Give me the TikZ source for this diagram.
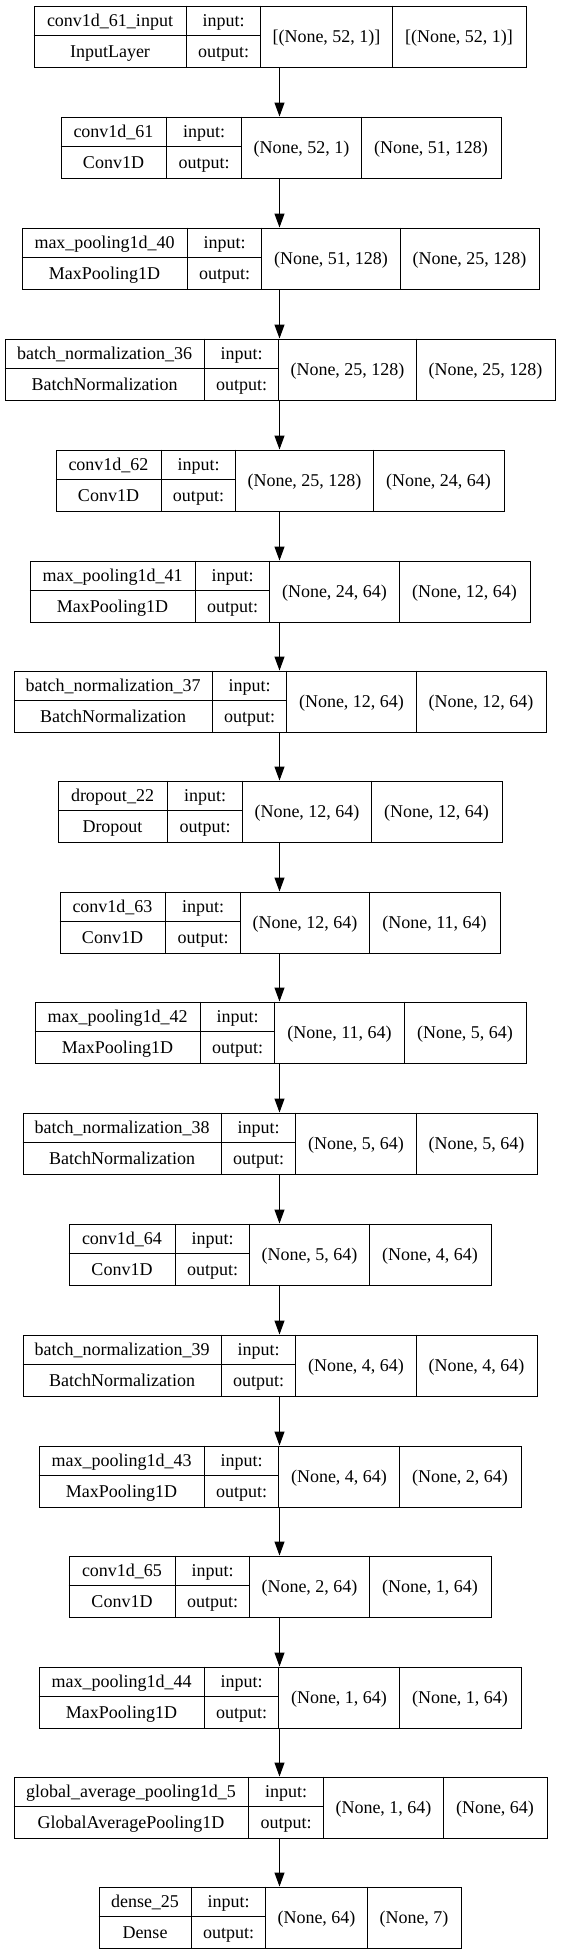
\documentclass[tikz,border=0pt]{standalone}
\usepackage{fontspec}
\setmainfont{Liberation Serif}
\usetikzlibrary{arrows.meta}
\begin{document}
\begin{tikzpicture}[x=1pt,y=-1pt,
  layerbox/.style={draw=black, line width=1.1pt, inner sep=0pt, anchor=north west},
  cell/.style={line width=1.1pt},
  txt/.style={font=\fontsize{18}{20}\selectfont, inner sep=0pt, anchor=base},
  arr/.style={line width=1.1pt, -{Triangle[length=14pt,width=10pt]}}]
\useasboundingbox (0,0) rectangle (563,1955);
\def\HH{61}
\coordinate (ax) at (279.5,0);
\foreach \nn/\ty/\xl/\xa/\xb/\xc/\xr/\lab/\cls/\shi/\sho in {
 b1/5.5/33.5/186.5/260.5/392.5/525.5/{conv1d\_61\_input}/{InputLayer}/{[(None, 52, 1)]}/{[(None, 52, 1)]},
 b2/116.5/60.5/166.5/241.5/361.5/500.5/{conv1d\_61}/{Conv1D}/{(None, 52, 1)}/{(None, 51, 128)},
 b3/227.5/21.5/187.5/261.5/400.5/538.5/{max\_pooling1d\_40}/{MaxPooling1D}/{(None, 51, 128)}/{(None, 25, 128)},
 b4/338.5/4.5/204.5/278.5/416.5/554.5/{batch\_normalization\_36}/{BatchNormalization}/{(None, 25, 128)}/{(None, 25, 128)},
 b5/449.5/55.5/161.5/235.5/373.5/503.5/{conv1d\_62}/{Conv1D}/{(None, 25, 128)}/{(None, 24, 64)},
 b6/560.5/29.5/195.5/269.5/399.5/529.5/{max\_pooling1d\_41}/{MaxPooling1D}/{(None, 24, 64)}/{(None, 12, 64)},
 b7/670.5/13.5/212.5/286.5/416.5/545.5/{batch\_normalization\_37}/{BatchNormalization}/{(None, 12, 64)}/{(None, 12, 64)},
 b8/780.5/57.5/167.5/242.5/371.5/501.5/{dropout\_22}/{Dropout}/{(None, 12, 64)}/{(None, 12, 64)},
 b9/891.5/59.5/165.5/240.5/369.5/499.5/{conv1d\_63}/{Conv1D}/{(None, 12, 64)}/{(None, 11, 64)},
 b10/1001.5/34.5/200.5/274.5/404.5/525.5/{max\_pooling1d\_42}/{MaxPooling1D}/{(None, 11, 64)}/{(None, 5, 64)},
 b11/1112.5/22.5/221.5/295.5/416.5/536.5/{batch\_normalization\_38}/{BatchNormalization}/{(None, 5, 64)}/{(None, 5, 64)},
 b12/1223.5/68.5/175.5/249.5/369.5/490.5/{conv1d\_64}/{Conv1D}/{(None, 5, 64)}/{(None, 4, 64)},
 b13/1334.5/22.5/221.5/295.5/416.5/536.5/{batch\_normalization\_39}/{BatchNormalization}/{(None, 4, 64)}/{(None, 4, 64)},
 b14/1445.5/38.5/204.5/278.5/399.5/520.5/{max\_pooling1d\_43}/{MaxPooling1D}/{(None, 4, 64)}/{(None, 2, 64)},
 b15/1555.5/68.5/175.5/249.5/369.5/490.5/{conv1d\_65}/{Conv1D}/{(None, 2, 64)}/{(None, 1, 64)},
 b16/1666.5/38.5/204.5/278.5/399.5/520.5/{max\_pooling1d\_44}/{MaxPooling1D}/{(None, 1, 64)}/{(None, 1, 64)},
 b17/1776.5/13.5/248.5/323.5/443.5/546.5/{global\_average\_pooling1d\_5}/{GlobalAveragePooling1D}/{(None, 1, 64)}/{(None, 64)},
 b18/1886.5/98.5/191.5/265.5/367.5/460.5/{dense\_25}/{Dense}/{(None, 64)}/{(None, 7)}%
}{
  \node[layerbox, minimum width={(\xr-\xl)*1pt}, minimum height=\HH pt] (\nn) at (\xl,\ty) {};
  \draw[cell] (\xa,\ty) -- (\xa,{\ty+\HH});
  \draw[cell] (\xb,\ty) -- (\xb,{\ty+\HH});
  \draw[cell] (\xc,\ty) -- (\xc,{\ty+\HH});
  \draw[cell] (\xl,{\ty+30}) -- (\xb,{\ty+30});
  \node[txt] (\nn-name) at ({(\xl+\xa)/2},{\ty+21}) {\lab};
  \node[txt] (\nn-cls) at ({(\xl+\xa)/2},{\ty+51.5}) {\cls};
  \node[txt] (\nn-i) at ({(\xa+\xb)/2},{\ty+21}) {input:};
  \node[txt] (\nn-o) at ({(\xa+\xb)/2},{\ty+51.5}) {output:};
  \node[txt] (\nn-in) at ({(\xb+\xc)/2},{\ty+36.5}) {\shi};
  \node[txt] (\nn-out) at ({(\xc+\xr)/2},{\ty+36.5}) {\sho};
}
\foreach \p/\q in {b1/b2,b2/b3,b3/b4,b4/b5,b5/b6,b6/b7,b7/b8,b8/b9,b9/b10,b10/b11,b11/b12,b12/b13,b13/b14,b14/b15,b15/b16,b16/b17,b17/b18}
  \draw[arr] (\p.south -| ax) -- (\q.north -| ax);
\end{tikzpicture}
\end{document}
